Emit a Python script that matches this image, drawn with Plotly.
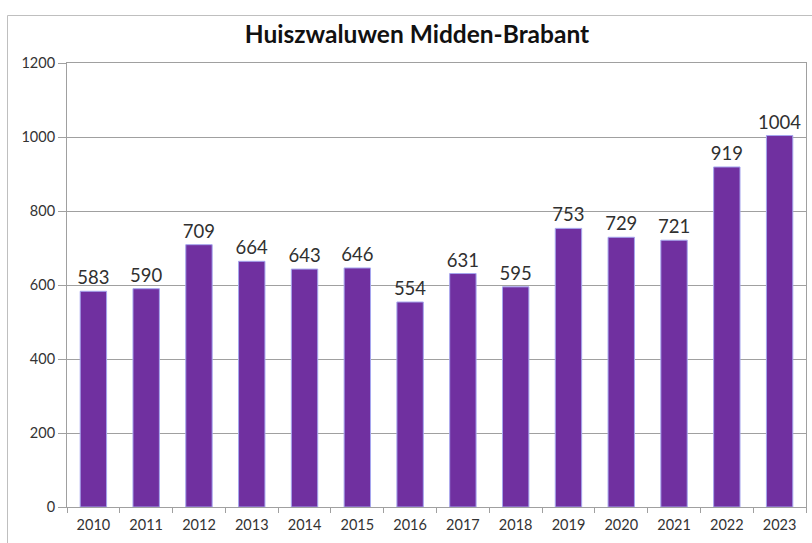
import plotly.graph_objects as go

years = ["2010", "2011", "2012", "2013", "2014", "2015", "2016", "2017", "2018", "2019", "2020", "2021", "2022", "2023"]
counts = [583, 590, 709, 664, 643, 646, 554, 631, 595, 753, 729, 721, 919, 1004]
y_ticks = [0, 200, 400, 600, 800, 1000, 1200]

W, H = 812, 543
ML, MR, MT, MB = 67, 6, 63, 36
PW, PH = W - ML - MR, H - MT - MB

fig = go.Figure()
fig.add_trace(go.Bar(
    x=years, y=counts,
    text=[str(v) for v in counts], textposition="outside",
    textfont=dict(size=18.5, color="#303030", family="Lato"),
    constraintext="none",
    marker=dict(color="#7030A0", line=dict(color="#A6A6EE", width=1)),
    width=0.5, cliponaxis=False,
))

fig.update_layout(
    width=W, height=H,
    margin=dict(l=ML, r=MR, t=MT, b=MB, autoexpand=False),
    paper_bgcolor="white", plot_bgcolor="white",
    title=dict(text="<b>Huiszwaluwen Midden-Brabant</b>", x=417 / W, xanchor="center",
               xref="container",
               y=1 - 34 / H, yanchor="middle",
               font=dict(family="Lato", size=24.5, color="#111111")),
    font=dict(family="Lato", color="#303030"),
    showlegend=False,
)
fig.update_xaxes(
    type="category", range=[-0.5, 13.5], automargin=False,
    showline=True, linecolor="#A0A0A0", linewidth=1, mirror=True,
    ticks="outside", tickson="boundaries", ticklen=5, tickcolor="#A0A0A0",
    ticklabelstandoff=5,
    tickfont=dict(size=14.5, color="#333333"), showgrid=False,
)
fig.update_yaxes(
    range=[0, 1200], tickvals=y_ticks, automargin=False,
    showline=True, linecolor="#A0A0A0", linewidth=1, mirror=True,
    ticks="outside", ticklen=8, tickcolor="#A0A0A0",
    showgrid=True, gridcolor="#A0A0A0", gridwidth=1,
    tickfont=dict(size=14.5, color="#333333"), zeroline=False,
)
# outer chart frame (left and top edges visible)
fx = (7.5 - ML) / PW
fy = (H - 15.5 - MB) / PH
fig.add_shape(type="line", xref="paper", yref="paper",
              x0=fx, x1=fx, y0=-MB / PH - 0.05, y1=fy,
              line=dict(color="#BFBFBF", width=1))
fig.add_shape(type="line", xref="paper", yref="paper",
              x0=fx, x1=1.05, y0=fy, y1=fy,
              line=dict(color="#BFBFBF", width=1))

fig.write_html(
    "out.html",
    config={"displayModeBar": False},
    post_script="document.body.style.margin='0';document.body.style.overflow='hidden';",
)
